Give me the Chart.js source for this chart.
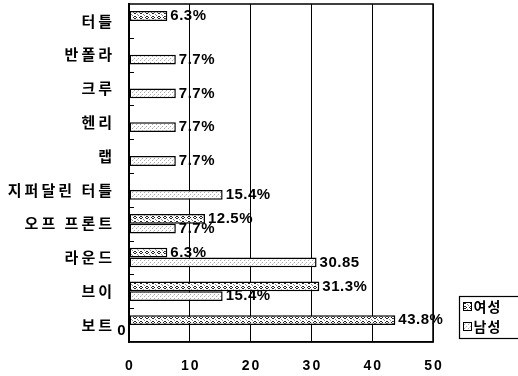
<!DOCTYPE html>
<html>
<head>
<meta charset="utf-8">
<script src="https://cdn.jsdelivr.net/npm/chart.js@4/dist/chart.umd.min.js"></script>
<style>
  html, body { margin: 0; padding: 0; background: #fff; }
  #wrap { width: 518px; height: 376px; }
</style>
</head>
<body>
<div id="wrap"><canvas id="c" width="518" height="376"></canvas></div>
<script>
// Neckline preference by gender (%)
const categories = ['터틀', '반폴라', '크루', '헨리', '랩', '지퍼달린 터틀', '오프 프론트', '라운드', '브이', '보트'];
const femaleValues = [6.3, 0, 0, 0, 0, 0, 12.5, 6.3, 31.3, 43.8];
const maleValues = [0, 7.7, 7.7, 7.7, 7.7, 15.4, 7.7, 30.85, 15.4, 0];
const femaleLabels = ['6.3%', null, null, null, null, null, '12.5%', '6.3%', '31.3%', '43.8%'];
const maleLabels = [null, '7.7%', '7.7%', '7.7%', '7.7%', '15.4%', '7.7%', '30.85', '15.4%', '0'];
const seriesNames = ['여성', '남성'];
const xTicks = [0, 10, 20, 30, 40, 50];

const KR_FONT = "'Noto Sans CJK KR', 'Noto Sans', sans-serif";
const NUM_FONT = "'Liberation Sans', Arial, sans-serif";

// Fill textures for the two series
function makePattern(w, h, painter) {
  const cv = document.createElement('canvas');
  cv.width = w; cv.height = h;
  const g = cv.getContext('2d');
  g.fillStyle = '#fff';
  g.fillRect(0, 0, w, h);
  painter(g);
  return g.createPattern(cv, 'repeat');
}
const femalePattern = makePattern(6, 5, g => {
  g.fillStyle = '#222';
  g.fillRect(2, 1, 2, 1);
  g.fillRect(1, 2, 1, 1);
  g.fillRect(4, 2, 1, 1);
  g.fillRect(2, 3, 2, 1);
  g.fillStyle = '#888';
  g.fillRect(0, 0, 1, 1);
  g.fillRect(5, 4, 1, 1);
});
const malePattern = makePattern(4, 4, g => {
  g.fillStyle = '#aaa';
  g.fillRect(0, 0, 1, 1);
  g.fillRect(2, 2, 1, 1);
  g.fillStyle = '#d8d8d8';
  g.fillRect(1, 3, 1, 1);
});

const seriesFills = [femalePattern, malePattern];
const seriesLabelText = [femaleLabels, maleLabels];

// Wider glyph spacing for the axis labels
function spaceLabels(scale, spacing, shiftX) {
  if (scale._spacedWrap) return;
  const orig = scale.drawLabels;
  scale.drawLabels = function (area) {
    const ctx = this.ctx;
    ctx.save();
    ctx.letterSpacing = spacing + 'px';
    ctx.translate(shiftX, 0);
    orig.call(this, area);
    ctx.restore();
  };
  scale._spacedWrap = true;
}
const spacedAxisText = {
  id: 'spacedAxisText',
  beforeDraw(chart) {
    spaceLabels(chart.scales.y, 3, 3);
    spaceLabels(chart.scales.x, 2, 1);
  }
};

// Value labels at the end of each bar
const valueLabels = {
  id: 'valueLabels',
  afterDatasetsDraw(chart) {
    const ctx = chart.ctx;
    ctx.save();
    ctx.font = 'bold 15px ' + NUM_FONT;
    ctx.letterSpacing = '0.5px';
    ctx.fillStyle = '#000';
    ctx.textBaseline = 'middle';
    chart.data.datasets.forEach((ds, di) => {
      const meta = chart.getDatasetMeta(di);
      meta.data.forEach((el, i) => {
        const txt = seriesLabelText[di][i];
        if (txt == null) return;
        if (ds.data[i] === 0) {
          ctx.textAlign = 'right';
          ctx.fillText(txt, el.base - 3, el.y + 1);
        } else {
          ctx.textAlign = 'left';
          ctx.fillText(txt, el.x + 3, el.y);
        }
      });
    });
    ctx.restore();
  }
};

// Frame round the plot, inner category ticks and the boxed legend
const frameAndLegend = {
  id: 'frameAndLegend',
  afterDraw(chart) {
    const ctx = chart.ctx;
    const a = chart.chartArea;
    const y = chart.scales.y;
    ctx.save();
    ctx.strokeStyle = '#000';
    ctx.lineWidth = 1.5;
    ctx.strokeRect(a.left, a.top, a.right - a.left, a.bottom - a.top);
    ctx.lineWidth = 1;
    for (let i = 0; i < categories.length - 1; i++) {
      const p = Math.round((y.getPixelForTick(i) + y.getPixelForTick(i + 1)) / 2) + 0.5;
      ctx.beginPath();
      ctx.moveTo(a.left, p);
      ctx.lineTo(a.left + 5, p);
      ctx.stroke();
    }
    // legend
    const lx = 459.5, ly = 296.5;
    ctx.lineWidth = 1.2;
    ctx.strokeRect(lx, ly, 70, 42);
    ctx.font = 'bold 14px ' + KR_FONT;
    ctx.letterSpacing = '1px';
    ctx.textBaseline = 'middle';
    ctx.textAlign = 'left';
    seriesNames.forEach((name, k) => {
      const my = ly + 6 + k * 20;
      ctx.fillStyle = seriesFills[k];
      ctx.fillRect(lx + 4, my, 8, 8);
      ctx.strokeStyle = '#000';
      ctx.lineWidth = 1;
      ctx.strokeRect(lx + 4, my, 8, 8);
      ctx.fillStyle = '#000';
      ctx.fillText(name, lx + 14, my + 4);
    });
    ctx.restore();
  }
};

new Chart(document.getElementById('c'), {
  type: 'bar',
  data: {
    labels: categories,
    datasets: [
      {
        label: seriesNames[0],
        data: femaleValues,
        backgroundColor: femalePattern,
        borderColor: '#000',
        borderWidth: 1.5,
        borderSkipped: false,
        categoryPercentage: 0.58,
        barPercentage: 1.0
      },
      {
        label: seriesNames[1],
        data: maleValues,
        backgroundColor: malePattern,
        borderColor: '#000',
        borderWidth: 1.5,
        borderSkipped: false,
        categoryPercentage: 0.58,
        barPercentage: 1.0
      }
    ]
  },
  options: {
    indexAxis: 'y',
    responsive: false,
    animation: false,
    devicePixelRatio: 1,
    layout: { padding: { top: 4, right: 85, left: 0, bottom: 0 } },
    plugins: {
      legend: { display: false },
      tooltip: { enabled: false }
    },
    scales: {
      x: {
        min: 0,
        max: 50,
        afterBuildTicks(scale) { scale.ticks = xTicks.map(v => ({ value: v })); },
        afterFit(scale) { scale.height = 34; },
        grid: { color: '#000', lineWidth: 1, drawTicks: false },
        border: { color: '#000', width: 1.5 },
        ticks: {
          padding: 16,
          color: '#000',
          font: { family: NUM_FONT, size: 14, weight: 'bold' }
        }
      },
      y: {
        afterFit(scale) {
          scale.width = 129;
          scale.paddingTop = 0;
          scale.paddingBottom = 0;
        },
        grid: { display: false, drawTicks: false },
        border: { color: '#000', width: 2 },
        ticks: {
          padding: 17,
          color: '#000',
          font: { family: KR_FONT, size: 15, weight: 'bold' }
        }
      }
    }
  },
  plugins: [spacedAxisText, valueLabels, frameAndLegend]
});
</script>
</body>
</html>
